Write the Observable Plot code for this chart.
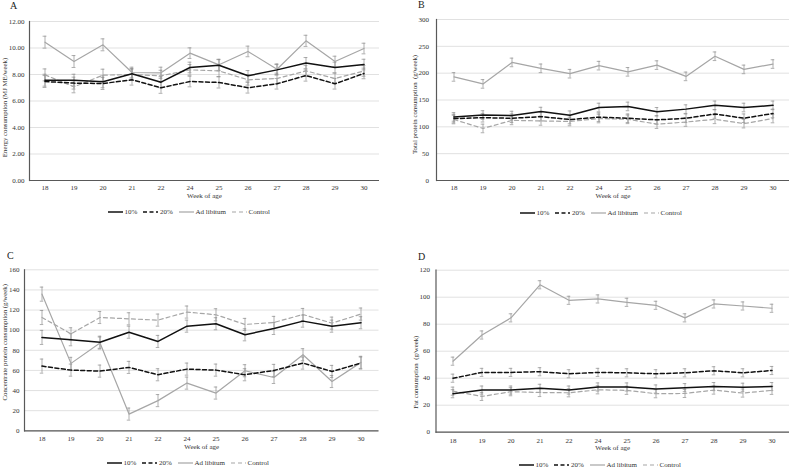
<!DOCTYPE html>
<html><head><meta charset="utf-8">
<script src="https://cdn.jsdelivr.net/npm/d3@7"></script>
<script src="https://cdn.jsdelivr.net/npm/@observablehq/plot@0.6"></script>
<style>
body{margin:0;background:#fff;}
#root{position:relative;width:791px;height:468px;font-family:"Liberation Serif",serif;overflow:hidden;background:#fff}
.panel{position:absolute}
.letter{position:absolute;font-size:10px;color:#222;font-family:"Liberation Serif",serif}
.legend{position:absolute;display:flex;align-items:center;justify-content:space-between;width:162px;font-size:7px;color:#333;white-space:nowrap;font-family:"Liberation Serif",serif}
.legend .item{display:flex;align-items:center}
.legend svg{margin-right:1.5px}
</style>
</head><body>
<div id="root"></div>
<script>
// ---- data ----
const weeks = ["18","19","20","21","22","24","25","26","27","28","29","30"];
const series = ["10%","20%","Ad libitum","Control"];

// Panel A: energy consumption (MJ ME/week)
const energy10  = [7.57,7.57,7.45,8.05,7.42,8.53,8.70,7.90,8.35,8.86,8.53,8.75];
const energy20  = [7.47,7.35,7.32,7.60,7.00,7.47,7.40,7.00,7.30,7.92,7.30,8.08];
const energyAd  = [10.44,8.98,10.24,8.15,8.13,9.61,8.73,9.74,8.40,10.54,8.98,9.96];
const energyCtl = [7.97,7.07,7.95,8.00,7.90,8.35,8.27,7.60,7.70,8.27,7.70,8.27];
const energyErr = [0.45,0.45,0.45,0.40,0.42,0.40,0.42,0.40,0.40,0.42,0.40,0.40];

// Panel B: total protein consumption (g/week)
const protein10  = [118.5,122,121,128.4,121.6,136,138,128,133,140,136,140];
const protein20  = [115.4,117,116,119,113.6,118,116,113,116,124,116,125];
const proteinAd  = [193,180,220,209,199,214,202.5,215,194,231.5,207,217];
const proteinCtl = [113.6,97,112,111,110,115.5,114,105,109,114,106,115.5];
const proteinErr = [8,8,8,8,8,8,8,8,8,8,8,8];

// Panel C: concentrate protein consumption (g/week)
const conc10  = [92.8,90.5,88,98,88.8,104,106.4,95.4,101.7,109,104,107.4];
const conc20  = [64.3,60.3,59.3,63,55.7,61.3,60.3,55.7,60,67.3,59,67.3];
const concAd  = [135.8,67,87.2,16.6,30,47.4,37.5,59.7,53,75.6,49,68];
const concCtl = [112.6,96.4,112.6,111.3,110,118,115.3,105.7,107.7,115.6,107,116];
const concErr = [7,6,6,6,6,6,6,6,6,6,6,6];

// Panel D: fat consumption (g/week)
const fat10  = [28.5,31.2,31.2,32.5,31.2,33.5,33.5,32,33,33.8,33.3,33.8];
const fat20  = [40,44.3,44.3,44.8,43.3,44.3,44,43.3,44,45.5,44,45.7];
const fatAd  = [52.6,72,84.7,109.2,97.7,98.7,96.2,94,84.7,95,93.5,91.8];
const fatCtl = [30.4,26.5,30,29.4,29.2,31.4,31,28.5,28.7,31.2,29,31];
const fatErr = [3,3,3,3,3,3,3,3,3,3,3,3];

const styles = {
  "10%":        {stroke:"#111", strokeWidth:1.5, dash:null},
  "20%":        {stroke:"#111", strokeWidth:1.5, dash:"4,2.5"},
  "Ad libitum": {stroke:"#a6a6a6", strokeWidth:1.2, dash:null},
  "Control":    {stroke:"#a6a6a6", strokeWidth:1.2, dash:"4,3"}
};

function buildRows(vals, err) {
  const rows = [];
  series.forEach((s, k) => vals[k].forEach((v, i) => rows.push({week: weeks[i], series: s, value: v, err: err[i]})));
  return rows;
}

function makePanel(cfg) {
  const rows = buildRows(cfg.values, cfg.err);
  const bw = (cfg.w - cfg.ml - cfg.mr) / weeks.length;
  const capInset = bw / 2 - 2;
  const marks = [
    Plot.gridY(cfg.ticks, {stroke:"#d9d9d9", strokeOpacity:1, strokeWidth:0.8}),
    Plot.ruleX(rows, {x:"week", y1:d=>d.value-d.err, y2:d=>d.value+d.err, stroke:"#8c8c8c", strokeWidth:0.7}),
    Plot.tickY(rows, {x:"week", y:d=>d.value+d.err, stroke:"#8c8c8c", strokeWidth:0.7, insetLeft:capInset, insetRight:capInset}),
    Plot.tickY(rows, {x:"week", y:d=>d.value-d.err, stroke:"#8c8c8c", strokeWidth:0.7, insetLeft:capInset, insetRight:capInset})
  ];
  ["Ad libitum","Control","20%","10%"].forEach(s => {
    const st = styles[s];
    marks.push(Plot.lineY(rows.filter(d=>d.series===s), {x:"week", y:"value", stroke:st.stroke, strokeWidth:st.strokeWidth, strokeDasharray:st.dash}));
  });
  marks.push(
    Plot.ruleY([cfg.domain[0]], {stroke:"#595959", strokeWidth:1.2}),
    Plot.frame({anchor:"left", stroke:"#595959", strokeWidth:1.2}),
    Plot.axisY({ticks:cfg.ticks, tickSize:0, tickPadding:cfg.yPad, tickFormat:cfg.fmt, label:null}),
    Plot.axisX({tickSize:0, tickPadding:cfg.xPad, label:null}),
    Plot.text(["Week of age"], {frameAnchor:"bottom", dy:cfg.weekDy, fill:"#333"}),
    Plot.text([cfg.yLabel], {frameAnchor:"left", textAnchor:"middle", rotate:-90, dx:cfg.yLabDx, dy:cfg.yLabDy, fill:"#333", fontSize:6.8})
  );
  const svg = Plot.plot({
    width: cfg.w, height: cfg.h,
    marginLeft: cfg.ml, marginRight: cfg.mr, marginTop: cfg.mt, marginBottom: cfg.mb,
    style: {fontFamily:"Liberation Serif, serif", fontSize:"7px", color:"#333", background:"transparent"},
    x: {type:"band", domain: weeks, padding:0, align:0.5},
    y: {domain: cfg.domain},
    marks
  });
  const wrap = document.createElement("div");
  wrap.className = "panel";
  wrap.style.left = cfg.left + "px";
  wrap.style.top = cfg.top + "px";
  wrap.appendChild(svg);
  document.getElementById("root").appendChild(wrap);

  const letter = document.createElement("div");
  letter.className = "letter";
  letter.textContent = cfg.letter;
  letter.style.left = cfg.letterX + "px";
  letter.style.top = cfg.letterY + "px";
  document.getElementById("root").appendChild(letter);

  const leg = document.createElement("div");
  leg.className = "legend";
  leg.style.left = cfg.legX + "px";
  leg.style.top = cfg.legY + "px";
  series.forEach(s => {
    const st = styles[s];
    const item = document.createElement("div");
    item.className = "item";
    item.innerHTML = `<svg width="15" height="6"><line x1="0" x2="15" y1="3" y2="3" stroke="${st.stroke}" stroke-width="${st.strokeWidth}" ${st.dash ? `stroke-dasharray="${st.dash}"` : ""}/></svg><span>${s}</span>`;
    leg.appendChild(item);
  });
  document.getElementById("root").appendChild(leg);
}

makePanel({letter:"A", letterX:10, letterY:0, left:0, top:0, w:395, h:203, ml:29, mr:16, mt:21, mb:23,
  values:[energy10, energy20, energyAd, energyCtl], err:energyErr, domain:[0,12], ticks:d3.range(0,12.01,2),
  fmt:d3.format(".2f"), yPad:5, xPad:4.5, weekDy:17, yLabel:"Energy consumption (MJ ME/week)", yLabDx:-24.5, yLabDy:6.5,
  legX:108, legY:208});

makePanel({letter:"B", letterX:418, letterY:-1, left:395, top:0, w:396, h:203, ml:41, mr:2, mt:19, mb:23,
  values:[protein10, protein20, proteinAd, proteinCtl], err:proteinErr, domain:[0,300], ticks:d3.range(0,301,50),
  fmt:d3.format("d"), yPad:7.5, xPad:4.5, weekDy:17, yLabel:"Total protein consumption  (g/week)", yLabDx:-22, yLabDy:4.5,
  legX:520, legY:209});

makePanel({letter:"C", letterX:7, letterY:250, left:0, top:250, w:395, h:205, ml:24, mr:16.5, mt:19.3, mb:24.7,
  values:[conc10, conc20, concAd, concCtl], err:concErr, domain:[0,160], ticks:d3.range(0,161,20),
  fmt:d3.format("d"), yPad:5, xPad:5.5, weekDy:18, yLabel:"Concentrate protein consumption (g/week)", yLabDx:-20, yLabDy:-8,
  legX:107, legY:459});

makePanel({letter:"D", letterX:418, letterY:251, left:395, top:250, w:396, h:205, ml:40.5, mr:2, mt:19.7, mb:23.3,
  values:[fat10, fat20, fatAd, fatCtl], err:fatErr, domain:[0,120], ticks:d3.range(0,121,20),
  fmt:d3.format("d"), yPad:6, xPad:5.5, weekDy:18, yLabel:"Fat consumption  (g/week)", yLabDx:-20.5, yLabDy:21,
  legX:519, legY:461});
</script>
</body></html>
